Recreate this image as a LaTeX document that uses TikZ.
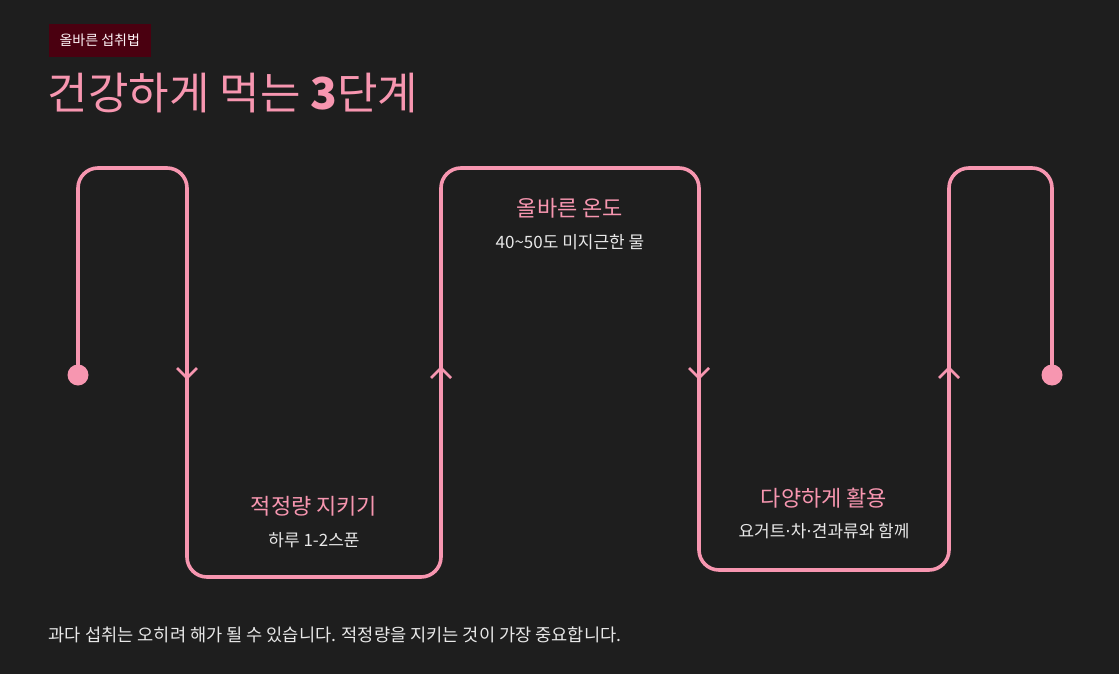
\documentclass[tikz,border=0pt]{standalone}
\usepackage{fontspec}
\setmainfont{Noto Sans CJK KR}
\newfontfamily\dotfont{DejaVu Sans}
\usepackage{tikz}
\usepackage{xcolor}
\definecolor{bg}{RGB}{30, 30, 30}
\definecolor{pk}{RGB}{247, 150, 176}
\definecolor{badge}{RGB}{74, 0, 16}
\definecolor{lt}{RGB}{232, 232, 232}
\newcommand{\md}{{\dotfont ·}}

\begin{document}
\begin{tikzpicture}[x = 1pt, y = -1pt, line width = 3.6pt]
\fill[bg] (0,0) rectangle (1119,674);
\useasboundingbox (0,0) rectangle (1119,674);
% badge and title
\node[fill = badge, text = white!88!pk, minimum width = 102pt, minimum height = 33pt, inner sep = 0pt, anchor = north west, font = \fontsize{14}{16}\selectfont] (badge) at (47,22) {올바른 섭취법};
\node[text = pk, anchor = base west, inner sep = 0pt, font = \fontsize{44}{50}\selectfont] (title) at (46,110) {건강하게 먹는 \textbf{3}단계};
% the wave
\coordinate (start) at (78,375);
\coordinate (end) at (1052,375);
\draw[pk, rounded corners = 20pt] (start) -- (78,168) -- (187,168) -- (187,577) -- (441,577) -- (441,168) -- (699,168) -- (699,570) -- (949,570) -- (949,168) -- (1052,168) -- (end);
\fill[pk] (start) circle (10.5pt);
\fill[pk] (end) circle (10.5pt);
\draw[pk, line width = 2.6pt] (177,368) -- (187,378) -- (197,368);
\draw[pk, line width = 2.6pt] (431,378) -- (441,368) -- (451,378);
\draw[pk, line width = 2.6pt] (689,368) -- (699,378) -- (709,368);
\draw[pk, line width = 2.6pt] (939,378) -- (949,368) -- (959,378);
% labels
\node[text = pk, font = \fontsize{22}{26}\selectfont] (s1) at (314,506) {적정량 지키기};
\node[text = lt, font = \fontsize{17}{20}\selectfont] (d1) at (314,540) {하루 1-2스푼};
\node[text = pk, font = \fontsize{22}{26}\selectfont] (s2) at (570,208) {올바른 온도};
\node[text = lt, font = \fontsize{17}{20}\selectfont] (d2) at (570,242) {40\textasciitilde50도 미지근한 물};
\node[text = pk, font = \fontsize{22}{26}\selectfont] (s3) at (824,498) {다양하게 활용};
\node[text = lt, font = \fontsize{17}{20}\selectfont] (d3) at (824,531) {요거트\md 차\md 견과류와 함께};
\node[text = lt, anchor = west, inner sep = 0pt, font = \fontsize{17.6}{20}\selectfont] (note) at (47,635) {과다 섭취는 오히려 해가 될 수 있습니다. 적정량을 지키는 것이 가장 중요합니다.};
\end{tikzpicture}
\end{document}
